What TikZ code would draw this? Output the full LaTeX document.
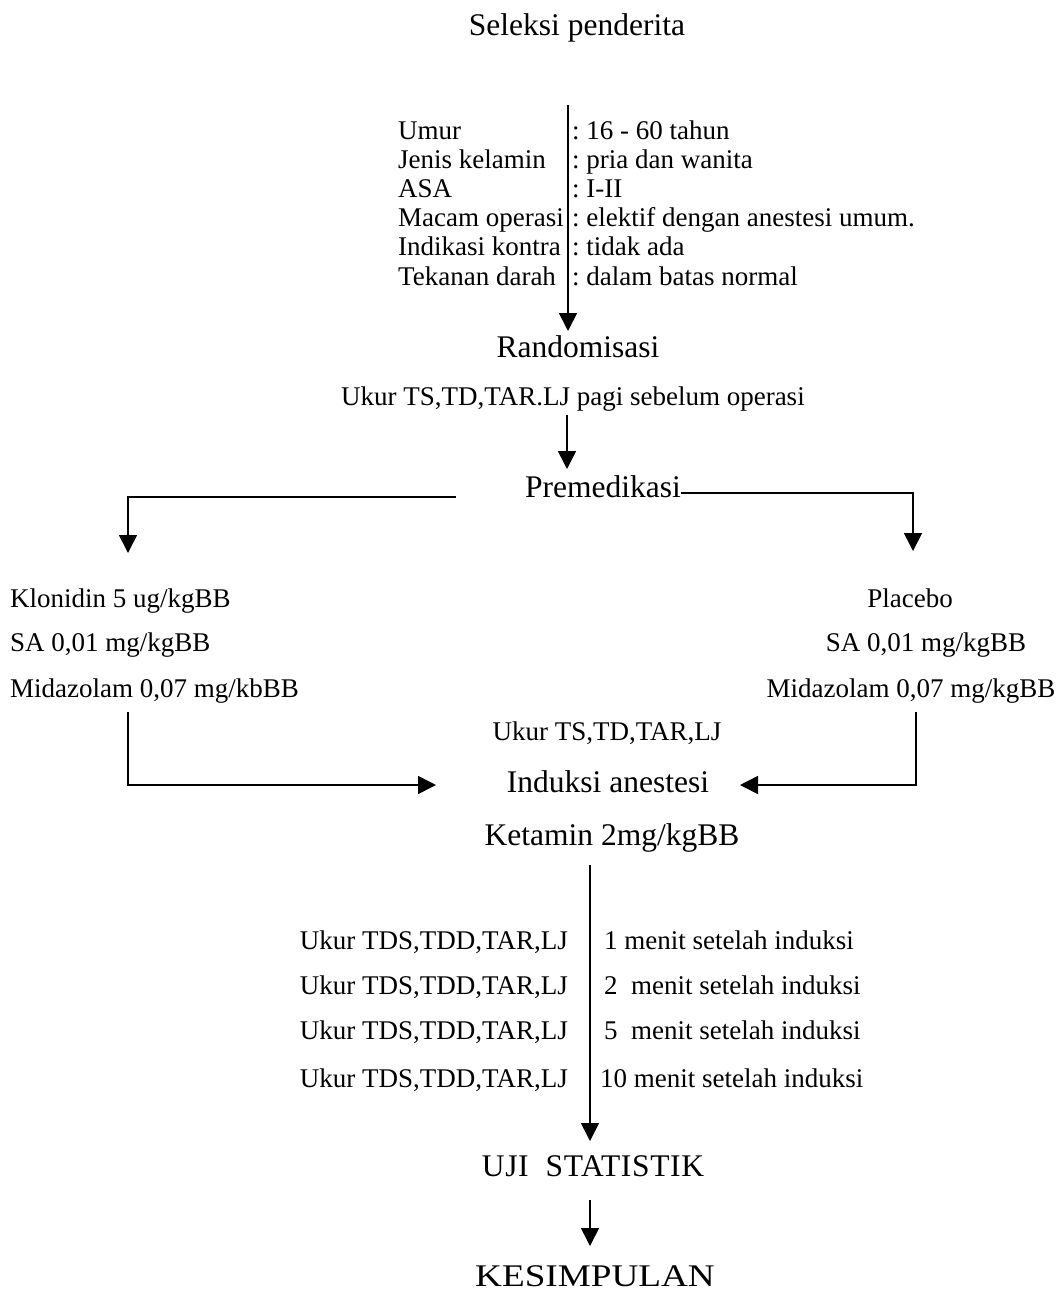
\documentclass[tikz,border=0pt]{standalone}
\usepackage{fontspec}
\setmainfont{Liberation Serif}
\usetikzlibrary{arrows.meta}
\begin{document}
\begin{tikzpicture}[x=1pt,y=-1pt,
  head/.style={font=\fontsize{31.5}{36}\selectfont, inner sep=0pt, anchor=base},
  body/.style={font=\fontsize{27}{31}\selectfont, inner sep=0pt, anchor=base},
  conn/.style={line width=1.6pt},
  arr/.style={conn, -{Triangle[length=18pt,width=18pt]}}]
\useasboundingbox (0,0) rectangle (1060,1293);
% headings
\node[head] (seleksi) at (577,35) {Seleksi penderita};
\node[head] (random) at (578,357) {Randomisasi};
\node[body] (ukur1) at (573,405) {Ukur TS,TD,TAR.LJ pagi sebelum operasi};
\node[head, anchor=base west] (premed) at (525,497) {Premedikasi};
% criteria
\foreach \i/\a/\b in {0/Umur/16 - 60 tahun, 1/Jenis kelamin/pria dan wanita, 2/ASA/I-II, 3/Macam operasi/elektif dengan anestesi umum., 4/Indikasi kontra/tidak ada, 5/Tekanan darah/dalam batas normal}{
  \node[body, anchor=base west] (crA\i) at (398,{139+29.2*\i}) {\a};
  \node[body, anchor=base west] (crB\i) at (572,{139+29.2*\i}) {:\ \b};
}
% groups
\node[body, anchor=base west] (kl1) at (10,607) {Klonidin 5 ug/kgBB};
\node[body, anchor=base west] (kl2) at (10,651) {SA 0,01 mg/kgBB};
\node[body, anchor=base west] (kl3) at (10,697) {Midazolam 0,07 mg/kbBB};
\node[body] (pl1) at (910,607) {Placebo};
\node[body] (pl2) at (926,651) {SA 0,01 mg/kgBB};
\node[body] (pl3) at (911,697) {Midazolam 0,07 mg/kgBB};
\node[body] (ukur2) at (607,740) {Ukur TS,TD,TAR,LJ};
\node[head] (induksi) at (608,792) {Induksi anestesi};
\node[head] (ketamin) at (612,845) {Ketamin 2mg/kgBB};
% measurement rows
\foreach \i/\s in {0/949, 1/994, 2/1039, 3/1087}{
  \node[body, anchor=base east] (mL\i) at (568,\s) {Ukur TDS,TDD,TAR,LJ};
}
\node[body, anchor=base west] (mR0) at (604,949) {1 menit setelah induksi};
\node[body, anchor=base west] (mR1) at (604,994) {2\ \ menit setelah induksi};
\node[body, anchor=base west] (mR2) at (604,1039) {5\ \ menit setelah induksi};
\node[body, anchor=base west] (mR3) at (600,1087) {10 menit setelah induksi};
\node[head] (uji) at (593,1176) {\addfontfeatures{LetterSpace=2}UJI\ \ STATISTIK};
\node[head] (kes) at (595,1286) {\scalebox{1.18}[1]{KESIMPULAN}};
% connector coordinates
\coordinate (s1) at (568,105);
\coordinate (t1) at (568,331);
\coordinate (s2) at (567,415);
\coordinate (t2) at (567,469);
\coordinate (pl) at (456,497);
\coordinate (lt) at (128,553);
\coordinate (rt) at (913,551);
\coordinate (ls) at (128,712);
\coordinate (lc) at (128,785);
\coordinate (lend) at (436,785);
\coordinate (rs) at (916,712);
\coordinate (rc) at (916,785);
\coordinate (rend) at (740,785);
\coordinate (s3) at (590,865);
\coordinate (t3) at (590,1141);
\coordinate (s4) at (590,1200);
\coordinate (t4) at (590,1246);
% connectors
\draw[arr] (s1) -- (t1);
\draw[arr] (s2) -- (t2);
\draw[arr] (pl) -| (lt);
\draw[arr] (premed.base east) ++(0,-4) coordinate (pr) -| (rt);
\draw[arr] (ls) -- (lc) -- (lend);
\draw[arr] (rs) -- (rc) -- (rend);
\draw[arr] (s3) -- (t3);
\draw[arr] (s4) -- (t4);
\end{tikzpicture}
\end{document}
